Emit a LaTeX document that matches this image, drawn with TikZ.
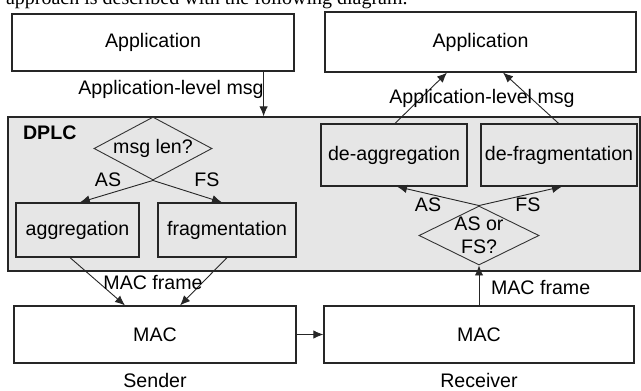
\documentclass[tikz,border=0pt]{standalone}
\usepackage{fontspec}
\setmainfont{Liberation Sans}
\newfontfamily\introfont{Liberation Serif}
\usepackage{tikz}
\usetikzlibrary{arrows.meta, shapes.geometric, positioning}
\definecolor{dplcgray}{HTML}{E6E6E6}
\tikzset{
    block/.style ={rectangle, draw=black!85, line width=0.6pt, inner sep=0pt},% plain boxes, sized by hand
    decide/.style ={diamond, draw=black!80, line width=0.45pt, aspect=2, inner sep=0pt},
    flow/.style ={-{Latex[length=5pt,width=4.2pt]}, line width=0.45pt, black!85},
}
\begin{document}
\begin{tikzpicture}[x=0.5pt, y=-0.5pt
        ,every node/.style ={font=\fontsize{9.8}{11.5}\selectfont, text=black},]
            \useasboundingbox (0,0) rectangle (641,390);
            \clip (0,0) rectangle (641,390);
            \node[anchor=base west, font=\introfont\fontsize{10}{11}\selectfont] (intro) at (-1,5) {approach is described with the following diagram.};
            % sender side
            \node[block, fill=dplcgray, minimum width=316pt, minimum height=77pt] (dplc) at (324,194) {};
            \node[anchor=west, font=\bfseries\fontsize{9.8}{11.5}\selectfont] (dplcname) at (16,133) {DPLC};
            \node[block, fill=white, minimum width=141pt, minimum height=28.5pt] (appS) at (153,42.5) {Application};
            \node[decide, minimum width=59pt, minimum height=31.5pt] (msglen) at (153,148.5) {msg len?};
            \node[block, minimum width=61.5pt, minimum height=27pt] (aggr) at (77.5,230) {aggregation};
            \node[block, minimum width=69pt, minimum height=27pt] (frag) at (227,230) {fragmentation};
            \node[block, fill=white, minimum width=141pt, minimum height=28.5pt] (macS) at (155,334.5) {MAC};
            \node (sender) at (155,380.5) {Sender};
            % receiver side
            \node[block, fill=white, minimum width=155.5pt, minimum height=30pt] (appR) at (480.5,42) {Application};
            \node[block, minimum width=73pt, minimum height=31pt] (deaggr) at (394,155) {de-aggregation};
            \node[block, minimum width=78pt, minimum height=31pt] (defrag) at (559,155) {de-fragmentation};
            \node[decide, inner sep=-1.6pt, minimum width=60pt, minimum height=29.5pt, align=center] (asfs) at (479,235.5) {AS or\\FS?};
            \node[block, fill=white, minimum width=155pt, minimum height=28.5pt] (macR) at (479,334.5) {MAC};
            \node (receiver) at (479,380.5) {Receiver};
            % connectors
            \path[flow] ([xshift=-15.5pt]appS.south east) edge ([xshift=-15.5pt]appS.south east |- dplc.north);
            \node (msgS) at (171,89) {Application-level msg};
            \path[flow] (msglen.south) edge ([xshift=1.2pt]aggr.north);
            \path[flow] (msglen.south) edge ([xshift=-2.5pt]frag.north);
            \node (asS) at (108,180) {AS};
            \node (fsS) at (207,180) {FS};
            \path[flow] ([xshift=-3.75pt]aggr.south) edge ([xshift=-15pt]macS.north);
            \path[flow] (frag.south) edge ([xshift=12.5pt]macS.north);
            \node (frameS) at (153,283) {MAC frame};
            \path[flow] (macS.east) edge (macR.west);
            \path[flow] (macR.north) edge (asfs.south);
            \node[anchor=west] (frameR) at (484,287) {MAC frame};
            \path[flow] (asfs.north) edge ([xshift=1.5pt]deaggr.south);
            \path[flow] (asfs.north) edge ([xshift=1.5pt]defrag.south);
            \node (asR) at (428,205) {AS};
            \node (fsR) at (528,205) {FS};
            \path[flow] ([xshift=0.5pt]deaggr.north) edge ([xshift=-16.75pt]appR.south);
            \path[flow] ([xshift=-0.2pt]defrag.north) edge ([xshift=11.25pt]appR.south);
            \node (msgR) at (482,98) {Application-level msg};
        \end{tikzpicture}
\end{document}
